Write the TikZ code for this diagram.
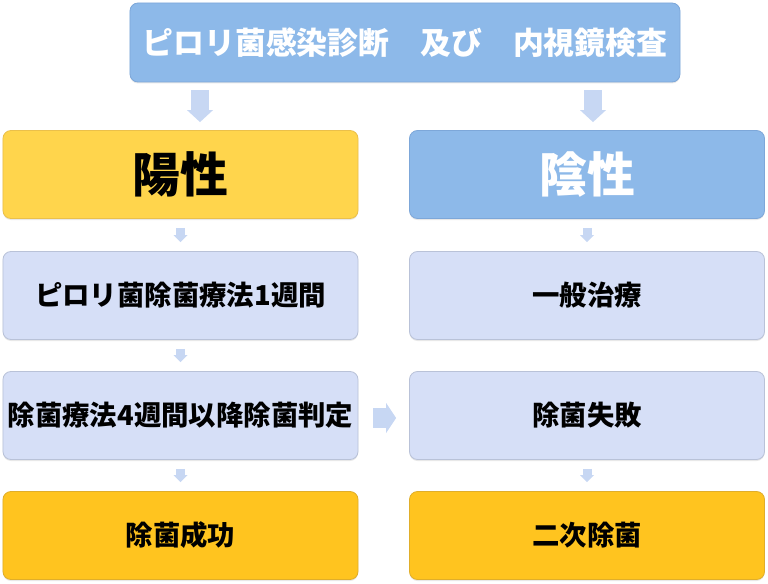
\documentclass[tikz,border=0pt]{standalone}
\usepackage{fontspec}
\setmainfont{Noto Sans CJK JP}
\usetikzlibrary{arrows.meta,shadows}

\definecolor{topblue}{HTML}{8DB9E9}
\definecolor{topline}{HTML}{7DA7D9}
\definecolor{posyellow}{HTML}{FFD54C}
\definecolor{posline}{HTML}{EBC04A}
\definecolor{lavfill}{HTML}{D6DFF7}
\definecolor{lavline}{HTML}{B9C2D8}
\definecolor{gold}{HTML}{FFC41F}
\definecolor{goldline}{HTML}{E0AE2A}
\definecolor{arrowblue}{HTML}{C7D7F3}

\tikzset{
  box/.style={draw, rounded corners=8bp, line width=0.8bp, inner sep=0pt,
    minimum width=355bp, minimum height=88bp,
    drop shadow={opacity=0.18, shadow xshift=0bp, shadow yshift=-1.5bp},
    font=\bfseries\fontsize{27.5}{32}\selectfont},
  headbox/.style={box, fill=topblue, draw=topline, text=white,
    minimum width=550bp, minimum height=79bp,
    font=\bfseries\fontsize{31}{36}\selectfont},
  posbox/.style={box, fill=posyellow, draw=posline,
    font=\bfseries\fontsize{48}{54}\selectfont},
  negbox/.style={box, fill=topblue, draw=topline, text=white,
    font=\bfseries\fontsize{48}{54}\selectfont},
  lavbox/.style={box, fill=lavfill, draw=lavline},
  goldbox/.style={box, fill=gold, draw=goldline},
  bigarrow/.style={draw=arrowblue, line width=18bp,
    -{Triangle[width=26bp,length=12bp,line width=0pt]},
    shorten <=8bp, shorten >=8bp},
  smallarrow/.style={draw=arrowblue, line width=9bp,
    -{Triangle[width=14bp,length=7bp,line width=0pt]},
    shorten <=9bp, shorten >=9bp},
  sidearrow/.style={draw=arrowblue, line width=20bp,
    -{Triangle[width=30bp,length=10bp,line width=0pt]},
    shorten <=15bp, shorten >=13bp}
}

\begin{document}
\begin{tikzpicture}[x=1bp,y=-1bp]
    \useasboundingbox (0,0) rectangle (768,584);

    \node[headbox] (exam) at (405,42.5) {ピロリ菌感染診断　及び　内視鏡検査};

    \node[posbox] (pos) at (180.5,174.5) {陽性};
    \node[negbox] (neg) at (587,174.5) {陰性};

    \node[lavbox] (erad) at (180.5,295.5) {ピロリ菌除菌療法1週間};
    \node[lavbox] (judge) at (180.5,415.5) {除菌療法4週間以降除菌判定};
    \node[goldbox] (success) at (180.5,535.5) {除菌成功};

    \node[lavbox] (general) at (587,295.5) {一般治療};
    \node[lavbox] (fail) at (587,415.5) {除菌失敗};
    \node[goldbox] (second) at (587,535.5) {二次除菌};

    \coordinate (leftx) at (200,0);
    \coordinate (rightx) at (593,0);

    % first step
    \draw[bigarrow] (exam.south -| leftx) -- (pos.north -| leftx);
    \draw[bigarrow] (exam.south -| rightx) -- (neg.north -| rightx);

    % left column
    \draw[smallarrow] (pos.south) -- (erad.north);
    \draw[smallarrow] (erad.south) -- (judge.north);
    \draw[smallarrow] (judge.south) -- (success.north);

    % right column
    \draw[smallarrow] (neg.south) -- (general.north);
    \draw[smallarrow] (fail.south) -- (second.north);

    \draw[sidearrow] ([yshift=-2.5bp]judge.east) -- ([yshift=-2.5bp]fail.west);
\end{tikzpicture}
\end{document}
